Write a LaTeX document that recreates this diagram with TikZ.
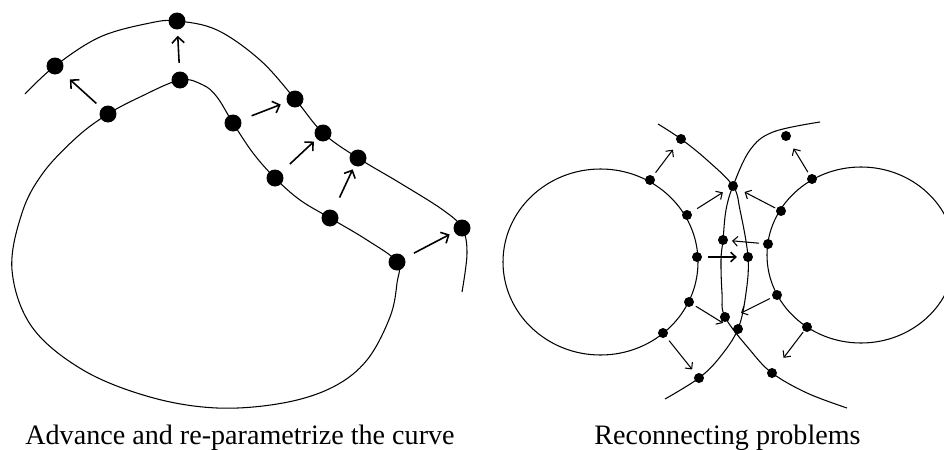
\documentclass[tikz,border=0pt]{standalone}
\usepackage{fontspec}
\setmainfont{Liberation Serif}
\usetikzlibrary{arrows.meta,calc}
\begin{document}
\begin{tikzpicture}[x=0.02cm,y=-0.02cm,
  curve/.style={line width=0.6pt},
  bigdot/.style={circle,fill=black,inner sep=0pt,minimum size=0.34cm},
  smalldot/.style={circle,fill=black,inner sep=0pt,minimum size=0.2cm},
  bigarr/.style={line width=0.9pt,-{Straight Barb[length=3.5pt,width=7pt]}},
  smallarr/.style={line width=0.6pt,-{Straight Barb[length=2.8pt,width=5.5pt]}},
  lbl/.style={anchor=base,font=\fontsize{16pt}{19pt}\selectfont}]
\clip (0,0) rectangle (944,450);

% ---------- left diagram ----------
\draw[curve] plot[smooth,tension=0.6] coordinates {(25,94) (55,66) (100,37) (150,23) (177,21) (217,30) (260,60) (295,99) (323,133) (358,158) (400,183) (443,210) (462,228) (467,253) (462,292)};
\draw[curve] plot[smooth cycle,tension=0.6] coordinates {(108,114) (140,97) (180,80) (203,85) (217,97) (233,123) (253,153) (275,178) (300,200) (330,218) (367,240) (397,262) (397,283) (390,317) (367,360) (333,387) (283,403) (217,408) (150,397) (83,370) (32,327) (12,270) (22,213) (43,173) (77,137)};

\node[bigdot] (o1) at (55,66) {};
\node[bigdot] (o2) at (177,21) {};
\node[bigdot] (o3) at (295,99) {};
\node[bigdot] (o4) at (323,133) {};
\node[bigdot] (o5) at (358,158) {};
\node[bigdot] (o6) at (462,228) {};
\node[bigdot] (i1) at (108,114) {};
\node[bigdot] (i2) at (180,80) {};
\node[bigdot] (i3) at (233,123) {};
\node[bigdot] (i4) at (275,178) {};
\node[bigdot] (i5) at (330,218) {};
\node[bigdot] (i6) at (397,262) {};

\draw[bigarr] ($(i1)!0.22!(o1)$) -- ($(i1)!0.72!(o1)$);
\draw[bigarr] ($(i2)!0.29!(o2)$) -- ($(i2)!0.75!(o2)$);
\draw[bigarr] ($(i3)!0.30!(o3)$) -- ($(i3)!0.77!(o3)$);
\draw[bigarr] ($(i4)!0.31!(o4)$) -- ($(i4)!0.81!(o4)$);
\draw[bigarr] ($(i5)!0.34!(o5)$) -- ($(i5)!0.81!(o5)$);
\draw[bigarr] ($(i6)!0.26!(o6)$) -- ($(i6)!0.81!(o6)$);

\node[lbl] (lab1) at (240,444) {Advance and re-parametrize the curve};

% ---------- right diagram ----------
\draw[curve] (600.5,262) ellipse [x radius=97.5, y radius=93];
\draw[curve] (861,255) ellipse [x radius=94, y radius=88];

\draw[curve] plot[smooth,tension=0.6] coordinates {(658,124) (681,139) (707,160) (733,186) (740,210) (748,257) (746,293) (738,329) (720,357) (699,378) (665,399)};
\draw[curve] plot[smooth,tension=0.6] coordinates {(820,122) (773,132) (750,150) (733,186) (726,210) (723,240) (721,260) (722,293) (725,317) (750,350) (772,373) (807,393) (847,408)};

\node[smalldot] (a1) at (650,180) {};
\node[smalldot] (a2) at (687,215) {};
\node[smalldot] (a3) at (697,257) {};
\node[smalldot] (a4) at (689,302) {};
\node[smalldot] (a5) at (663,333) {};
\node[smalldot] (b1) at (812,179) {};
\node[smalldot] (b2) at (781,211) {};
\node[smalldot] (b3) at (768,244) {};
\node[smalldot] (b4) at (777,295) {};
\node[smalldot] (b5) at (807,327) {};
\node[smalldot] (f1) at (681,139) {};
\node[smalldot] (f2) at (733,186) {};
\node[smalldot] (f3) at (723,240) {};
\node[smalldot] (f4) at (748,257) {};
\node[smalldot] (f5) at (725,317) {};
\node[smalldot] (f6) at (738,329) {};
\node[smalldot] (f7) at (699,378) {};
\node[smalldot] (f8) at (772,373) {};
\node[smalldot] (f9) at (786,136) {};
\coordinate (t0) at (723,323);
\coordinate (t1) at (741,313);

\draw[smallarr] ($(a1)!0.18!(f1)$) -- ($(a1)!0.74!(f1)$);
\draw[smallarr] ($(a2)!0.22!(f2)$) -- ($(a2)!0.78!(f2)$);
\draw[smallarr,line width=0.9pt] ($(a3)!0.22!(f4)$) -- ($(a3)!0.78!(f4)$);
\draw[smallarr] ($(a4)!0.2!(t0)$) -- (t0);
\draw[smallarr] ($(a5)!0.17!(f7)$) -- ($(a5)!0.81!(f7)$);
\draw[smallarr] ($(b1)!0.16!(f9)$) -- ($(b1)!0.71!(f9)$);
\draw[smallarr] ($(b2)!0.12!(f2)$) -- ($(b2)!0.76!(f2)$);
\draw[smallarr] ($(b3)!0.2!(f3)$) -- ($(b3)!0.8!(f3)$);
\draw[smallarr] ($(b4)!0.2!(t1)$) -- (t1);
\draw[smallarr] ($(b5)!0.11!(f8)$) -- ($(b5)!0.67!(f8)$);

\node[lbl] (lab2) at (727.5,444) {Reconnecting problems};
\end{tikzpicture}
\end{document}
